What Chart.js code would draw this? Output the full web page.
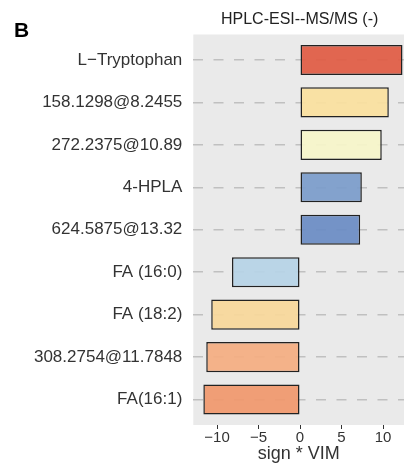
<!DOCTYPE html>
<html><head><meta charset="utf-8">
<style>html,body{margin:0;padding:0;background:#fff;}#wrap{width:404px;height:464px;}</style>
<script src="https://cdn.jsdelivr.net/npm/chart.js@4"></script>
</head><body><div id="wrap"><canvas id="c" width="404" height="464"></canvas></div>
<script>
const categories = ["L\u2212Tryptophan","158.1298@8.2455","272.2375@10.89","4-HPLA","624.5875@13.32","FA (16:0)","FA (18:2)","308.2754@11.7848","FA(16:1)"];
const vimValues = [12.35, 10.7, 9.85, 7.45, 7.25, -8.2, -10.7, -11.3, -11.65];
const barColors = ["#E05C45","#FAE09F","#F6F5C9","#7B9CCB","#6B8CC4","#B6D3E6","#F8D79A","#F4AE82","#F0986D"];
const xTicks = [-10, -5, 0, 5, 10];
const rowIndex = categories.map((_, i) => i);
const chartTitle = 'HPLC-ESI--MS/MS (-)';
const panelLetter = 'B';

const FONT = '"Liberation Sans", Arial, sans-serif';

const bgPlugin = {
  id: 'bg',
  beforeDraw(chart) {
    const {ctx, chartArea: a} = chart;
    ctx.save();
    ctx.fillStyle = '#EAEAEA';
    ctx.fillRect(a.left, a.top, a.right - a.left, a.bottom - a.top);
    ctx.restore();
  },
  afterDraw(chart) {
    const {ctx, chartArea: a} = chart;
    ctx.save();
    ctx.fillStyle = '#000';
    ctx.font = 'bold 21px ' + FONT;
    ctx.textAlign = 'left';
    ctx.textBaseline = 'alphabetic';
    ctx.fillText(panelLetter, 14, 37);
    ctx.fillStyle = '#222';
    ctx.font = '16px ' + FONT;
    ctx.textAlign = 'center';
    ctx.textBaseline = 'middle';
    ctx.fillText(chartTitle, (a.left + a.right) / 2 + 1, 20);
    ctx.restore();
  }
};

new Chart(document.getElementById('c'), {
  type: 'bar',
  data: {
    datasets: [{
      data: rowIndex.map(i => ({y: i, x: vimValues[i]})),
      backgroundColor: barColors.map(c => c + 'EE'),
      borderColor: '#222222',
      borderWidth: 1.5,
      borderSkipped: false,
      categoryPercentage: 1,
      barPercentage: 0.71
    }]
  },
  plugins: [bgPlugin],
  options: {
    indexAxis: 'y',
    responsive: false,
    animation: false,
    devicePixelRatio: 1,
    layout: {padding: {left: 0, right: 0, top: 34.5, bottom: 0}},
    plugins: {
      legend: {display: false},
      tooltip: {enabled: false},
      title: {display: false}
    },
    scales: {
      x: {
        type: 'linear',
        min: -12.86,
        max: 12.53,
        afterBuildTicks(s) { s.ticks = xTicks.map(v => ({value: v})); },
        afterFit(s) { s.height = 39; },
        ticks: {
          color: '#333',
          font: {family: FONT, size: 15},
          padding: 0,
          callback: v => (v < 0 ? '\u2212' + Math.abs(v) : String(v))
        },
        grid: {display: true, drawOnChartArea: false, drawTicks: true, tickLength: 4, color: '#333', lineWidth: 1},
        border: {display: false},
        title: {
          display: true,
          text: 'sign * VIM',
          color: '#333',
          font: {family: FONT, size: 18},
          padding: {top: 0, bottom: -1}
        }
      },
      y: {
        type: 'linear',
        reverse: true,
        offset: false,
        min: -0.6,
        max: 8.6,
        afterBuildTicks(s) { s.ticks = rowIndex.map(v => ({value: v})); },
        afterFit(s) { s.width = 193.3; },
        ticks: {
          color: '#333',
          font: {family: FONT, size: 17},
          padding: 11,
          callback: v => categories[v]
        },
        grid: {display: true, offset: false, drawTicks: false, color: '#C0C0C0', lineWidth: 1.5},
        border: {display: false, dash: [10, 10.5]}
      }
    }
  }
});
</script></body></html>
